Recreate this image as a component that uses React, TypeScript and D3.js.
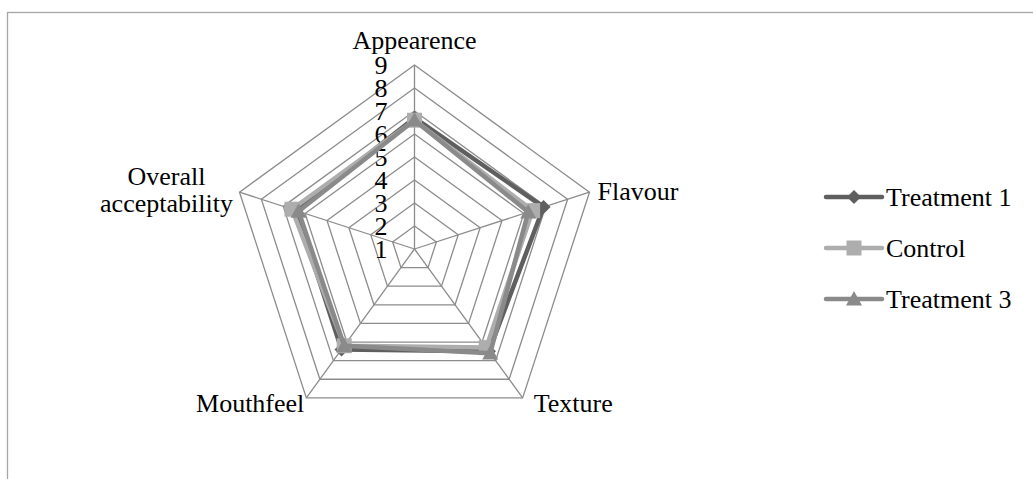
import React from "react";
import * as d3 from "d3";

const categories = ["Appearence", "Flavour", "Texture", "Mouthfeel", "Overall acceptability"];
const seriesNames = ["Treatment 1", "Control", "Treatment 3"];
const treatment1 = [6.7, 6.9, 6.5, 6.4, 6.4];
const control = [6.6, 6.4, 6.3, 6.2, 6.6];
const treatment3 = [6.6, 6.2, 6.6, 6.2, 6.3];
const tickValues = [1, 2, 3, 4, 5, 6, 7, 8, 9];

const W = 1033;
const H = 479;
const cx = 414.5;
const cy = 249;
const R = 184;
const FONT = "'Liberation Serif', 'Times New Roman', serif";
const FS = 26;

const colors = ["#5f5f5f", "#adadad", "#8a8a8a"];
const markers = ["diamond", "square", "triangle"];

function markerPath(type: string, x: number, y: number): string {
  const p = d3.path();
  if (type === "diamond") {
    const s = 7;
    p.moveTo(x, y - s); p.lineTo(x + s, y); p.lineTo(x, y + s); p.lineTo(x - s, y); p.closePath();
  } else if (type === "square") {
    const s = 7.5;
    p.rect(x - s, y - s, 2 * s, 2 * s);
  } else {
    const s = 8;
    p.moveTo(x, y - s); p.lineTo(x + s, y + s * 0.8); p.lineTo(x - s, y + s * 0.8); p.closePath();
  }
  return p.toString();
}

export default function App() {
  const r = d3.scaleLinear().domain([1, 9]).range([0, R]);
  const angle = d3.scalePoint<number>().domain(d3.range(categories.length + 1)).range([0, 2 * Math.PI]);
  const pt = (i: number, v: number): [number, number] => {
    const a = angle(i)!;
    return [cx + r(v) * Math.sin(a), cy - r(v) * Math.cos(a)];
  };
  const data = [treatment1, control, treatment3];
  const lineGen = d3.line<[number, number]>().curve(d3.curveLinearClosed);

  const labelPos: { x: number; y: number; anchor: string; lines: string[] }[] = [
    { x: cx, y: 49, anchor: "middle", lines: ["Appearence"] },
    { x: pt(1, 9)[0] + 8, y: pt(1, 9)[1] + 8, anchor: "start", lines: ["Flavour"] },
    { x: pt(2, 9)[0] + 11, y: pt(2, 9)[1] + 14, anchor: "start", lines: ["Texture"] },
    { x: pt(3, 9)[0] - 2, y: pt(3, 9)[1] + 14, anchor: "end", lines: ["Mouthfeel"] },
    { x: pt(4, 9)[0] - 73, y: pt(4, 9)[1] - 7, anchor: "middle", lines: ["Overall", "acceptability"] },
  ];

  return (
    <div style={{ position: "fixed", left: 0, top: 0 }}>
      <svg width={W} height={H} style={{ display: "block", background: "#fff" }}>
        <rect x={7.5} y={12.5} width={W + 20} height={H + 20} fill="#fff" stroke="#a6a6a6" strokeWidth={1.3} />
        {tickValues.slice(1).map((t) => (
          <path
            key={"ring" + t}
            d={lineGen(categories.map((_, i) => pt(i, t)))!}
            fill="none"
            stroke="#8c8c8c"
            strokeWidth={1.3}
          />
        ))}
        {categories.map((_, i) => {
          const [x, y] = pt(i, 9);
          return <line key={"sp" + i} x1={cx} y1={cy} x2={x} y2={y} stroke="#8c8c8c" strokeWidth={1.3} />;
        })}
        {tickValues.map((t) => (
          <text
            key={"t" + t}
            x={cx - 27}
            y={cy - r(t) + 9}
            textAnchor="end"
            fontFamily={FONT}
            fontSize={FS}
            fill="#000"
          >
            {t}
          </text>
        ))}
        {labelPos.map((l, i) => (
          <text key={"c" + i} x={l.x} y={l.y} textAnchor={l.anchor as any} fontFamily={FONT} fontSize={FS} fill="#000">
            {l.lines.map((s, j) => (
              <tspan key={j} x={l.x} dy={j === 0 ? 0 : 27}>
                {s}
              </tspan>
            ))}
          </text>
        ))}
        {data.map((vals, si) => {
          const pts = vals.map((v, i) => pt(i, v));
          return (
            <g key={"s" + si}>
              <path d={lineGen(pts)!} fill="none" stroke={colors[si]} strokeWidth={4.5} strokeLinejoin="round" />
              {pts.map(([x, y], i) => (
                <path key={i} d={markerPath(markers[si], x, y)} fill={colors[si]} />
              ))}
            </g>
          );
        })}
        {seriesNames.map((name, si) => {
          const y = 197 + si * 51;
          return (
            <g key={"lg" + si}>
              <line x1={826} x2={882} y1={y} y2={y} stroke={colors[si]} strokeWidth={4.5} strokeLinecap="round" />
              <path d={markerPath(markers[si], 854, y)} fill={colors[si]} />
              <text x={886} y={y + 9} fontFamily={FONT} fontSize={FS} fill="#000">
                {name}
              </text>
            </g>
          );
        })}
      </svg>
    </div>
  );
}
